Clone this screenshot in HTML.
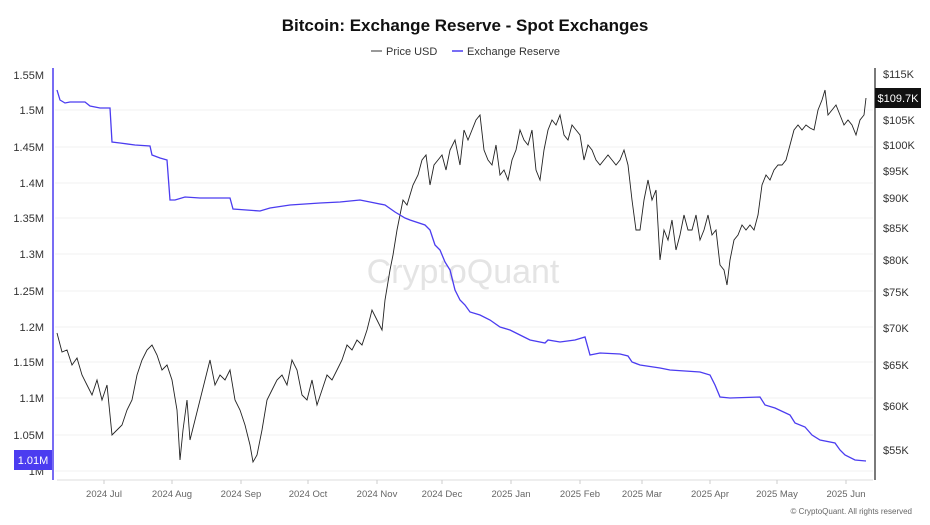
<!DOCTYPE html>
<html><head><meta charset="utf-8"><style>
html,body{margin:0;padding:0;background:#fff;}
svg{display:block;font-family:"Liberation Sans",sans-serif;}
</style></head><body>
<svg width="930" height="525" viewBox="0 0 930 525">
<rect width="930" height="525" fill="#fff"/>
<text x="465" y="31" text-anchor="middle" font-size="17" font-weight="bold" fill="#111">Bitcoin: Exchange Reserve - Spot Exchanges</text>
<line x1="371" y1="51" x2="382" y2="51" stroke="#555" stroke-width="1.2"/>
<text x="386" y="55" font-size="11" fill="#333">Price USD</text>
<line x1="452" y1="51" x2="463" y2="51" stroke="#4b3cf0" stroke-width="1.5"/>
<text x="467" y="55" font-size="11" fill="#333">Exchange Reserve</text>
<g stroke="#f0f0f0" stroke-width="1">
<line x1="55" x2="873" y1="110" y2="110"/><line x1="55" x2="873" y1="147" y2="147"/><line x1="55" x2="873" y1="183" y2="183"/><line x1="55" x2="873" y1="218" y2="218"/><line x1="55" x2="873" y1="254" y2="254"/><line x1="55" x2="873" y1="291" y2="291"/><line x1="55" x2="873" y1="327" y2="327"/><line x1="55" x2="873" y1="362" y2="362"/><line x1="55" x2="873" y1="398" y2="398"/><line x1="55" x2="873" y1="435" y2="435"/><line x1="55" x2="873" y1="471" y2="471"/>
</g>
<text x="463" y="283" text-anchor="middle" font-size="34" fill="#e4e4e4">CryptoQuant</text>
<line x1="53" y1="68" x2="53" y2="480" stroke="#4b3cf0" stroke-width="1.5"/>
<line x1="875" y1="68" x2="875" y2="480" stroke="#222" stroke-width="1.2"/>
<line x1="57" y1="480" x2="873" y2="480" stroke="#ddd"/>
<g font-size="11" fill="#333" text-anchor="end">
<text x="44" y="79">1.55M</text><text x="44" y="114">1.5M</text><text x="44" y="151">1.45M</text><text x="44" y="187">1.4M</text><text x="44" y="222">1.35M</text><text x="44" y="258">1.3M</text><text x="44" y="295">1.25M</text><text x="44" y="331">1.2M</text><text x="44" y="366">1.15M</text><text x="44" y="402">1.1M</text><text x="44" y="439">1.05M</text><text x="44" y="475">1M</text>
</g>
<rect x="14" y="450" width="38" height="20" fill="#4b3cf0"/>
<text x="33" y="464" font-size="11" fill="#fff" text-anchor="middle">1.01M</text>
<g font-size="11" fill="#333">
<text x="883" y="78">$115K</text><text x="883" y="124">$105K</text><text x="883" y="149">$100K</text><text x="883" y="175">$95K</text><text x="883" y="202">$90K</text><text x="883" y="232">$85K</text><text x="883" y="264">$80K</text><text x="883" y="296">$75K</text><text x="883" y="332">$70K</text><text x="883" y="369">$65K</text><text x="883" y="410">$60K</text><text x="883" y="454">$55K</text>
</g>
<rect x="875" y="88" width="46" height="20" fill="#111"/>
<text x="898" y="102" font-size="11" fill="#fff" text-anchor="middle">$109.7K</text>
<g stroke="#ccc"><line x1="104" y1="480" x2="104" y2="484"/><line x1="172" y1="480" x2="172" y2="484"/><line x1="241" y1="480" x2="241" y2="484"/><line x1="308" y1="480" x2="308" y2="484"/><line x1="377" y1="480" x2="377" y2="484"/><line x1="442" y1="480" x2="442" y2="484"/><line x1="511" y1="480" x2="511" y2="484"/><line x1="580" y1="480" x2="580" y2="484"/><line x1="642" y1="480" x2="642" y2="484"/><line x1="710" y1="480" x2="710" y2="484"/><line x1="777" y1="480" x2="777" y2="484"/><line x1="846" y1="480" x2="846" y2="484"/></g>
<g font-size="9.5" fill="#666" text-anchor="middle">
<text x="104" y="497">2024 Jul</text><text x="172" y="497">2024 Aug</text><text x="241" y="497">2024 Sep</text><text x="308" y="497">2024 Oct</text><text x="377" y="497">2024 Nov</text><text x="442" y="497">2024 Dec</text><text x="511" y="497">2025 Jan</text><text x="580" y="497">2025 Feb</text><text x="642" y="497">2025 Mar</text><text x="710" y="497">2025 Apr</text><text x="777" y="497">2025 May</text><text x="846" y="497">2025 Jun</text>
</g>
<text x="912" y="514" font-size="8" fill="#666" text-anchor="end">© CryptoQuant. All rights reserved</text>
<polyline fill="none" stroke="#222" stroke-width="0.9" points="57,333 62,352 67,350 72,365 77,358 82,375 87,385 92,395 97,380 102,400 107,385 112,435 117,430 122,425 127,410 132,400 137,375 142,360 147,350 152,345 157,355 162,370 167,365 172,380 177,410 180,460 183,430 187,400 190,440 195,420 200,400 205,380 210,360 215,385 220,375 225,380 230,370 235,400 240,410 245,425 250,445 253,462 257,455 262,430 267,400 272,390 277,380 282,375 287,385 292,360 297,370 302,395 307,400 312,380 317,405 322,390 327,375 332,380 337,370 342,360 347,345 352,350 357,340 362,345 367,330 372,310 377,320 382,330 385,300 390,270 393,255 397,230 400,215 403,200 407,205 410,195 413,185 418,175 422,160 426,155 430,185 434,165 438,160 442,155 446,170 450,150 455,140 460,165 464,130 468,140 472,130 476,120 480,115 484,150 488,160 492,165 496,145 500,175 504,170 508,180 512,160 516,150 520,130 524,140 528,145 532,130 536,170 540,180 544,150 548,130 552,120 556,125 560,115 564,135 568,140 572,125 576,130 580,135 584,160 588,145 592,150 596,160 600,165 604,160 608,155 612,160 616,165 620,160 624,150 628,165 632,200 636,230 640,230 644,200 648,180 652,200 656,190 660,260 664,230 668,240 672,220 676,250 680,235 684,215 688,230 692,230 696,215 700,240 704,230 708,215 712,235 716,230 720,265 724,270 727,285 730,260 734,240 738,235 742,225 746,230 750,225 754,230 758,215 762,185 766,175 770,180 774,170 778,165 782,165 786,160 790,145 794,130 798,125 802,130 806,125 810,128 814,130 818,110 822,100 825,90 828,115 832,110 836,105 840,115 844,125 848,120 852,125 856,135 860,120 864,115 866,98"/>
<polyline fill="none" stroke="#4b3cf0" stroke-width="1.3" points="57,90 60,100 65,103 70,102 85,102 90,106 100,108 110,108 112,142 120,143 135,145 150,146 152,155 160,158 167,160 170,200 175,200 185,197 200,198 230,198 233,209 260,211 270,208 290,205 320,203 340,202 360,200 370,202 385,205 395,212 405,218 410,220 425,225 430,230 435,245 440,250 445,262 450,270 455,290 460,300 465,305 470,312 480,315 490,320 500,327 510,330 520,335 530,340 545,343 548,340 560,342 575,340 585,337 590,355 600,353 620,354 628,356 632,362 640,365 660,368 670,370 700,372 710,375 715,385 720,397 730,398 760,397 765,405 775,408 790,415 795,423 805,427 812,435 820,440 835,443 840,450 845,455 855,460 866,461"/>
</svg>
</body></html>
